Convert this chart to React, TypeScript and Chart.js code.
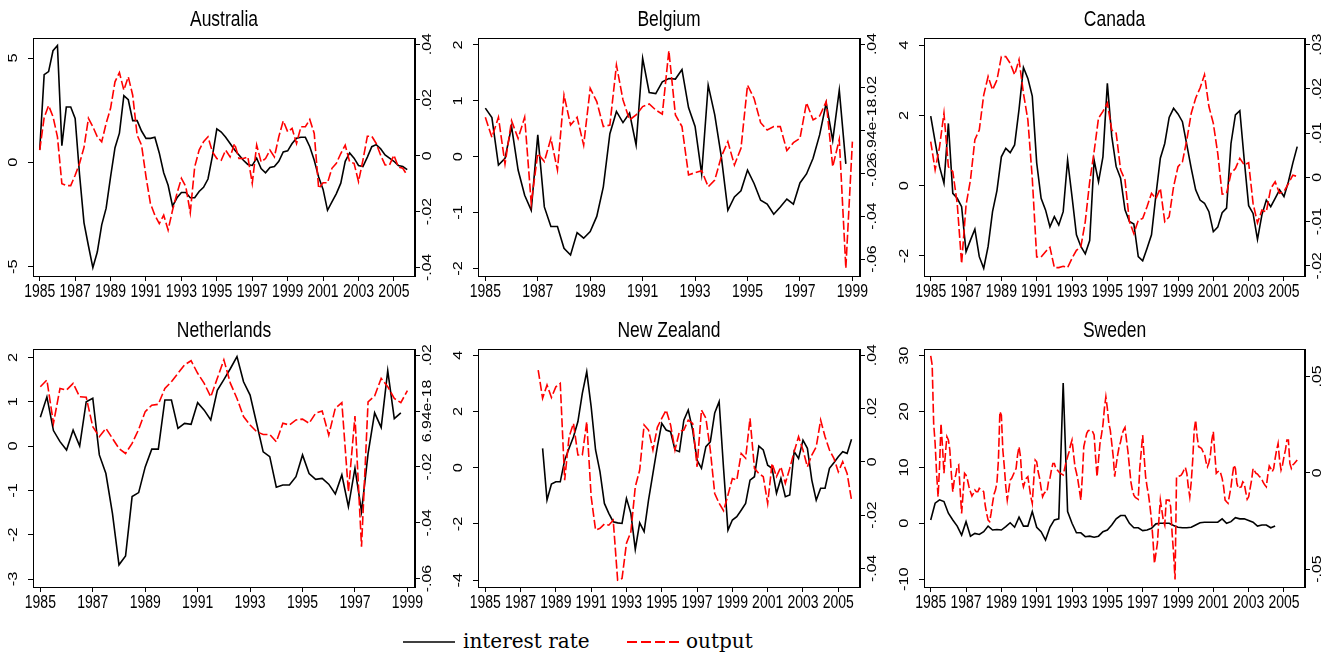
import React, { useEffect, useRef } from "react";
import { Chart, registerables } from "chart.js";
Chart.register(...registerables);

const SANS = '"Liberation Sans", Arial, Helvetica, sans-serif';
const SY = 1.26;

// ---------- tick values & labels ----------
const xTicksLong = [1985, 1987, 1989, 1991, 1993, 1995, 1997, 1999, 2001, 2003, 2005];
const xTicksShort = [1985, 1987, 1989, 1991, 1993, 1995, 1997, 1999];

const ausLeftTicks = [-5, 0, 5];
const ausLeftLabels = ["-5", "0", "5"];
const ausRightTicks = [-0.04, -0.02, 0, 0.02, 0.04];
const ausRightLabels = ["-.04", "-.02", "0", ".02", ".04"];

const belLeftTicks = [-2, -1, 0, 1, 2];
const belLeftLabels = ["-2", "-1", "0", "1", "2"];
const belRightTicks = [-0.06, -0.04, -0.02, 0, 0.02, 0.04];
const belRightLabels = ["-.06", "-.04", "-.02", "6.94e-18", ".02", ".04"];

const canLeftTicks = [-2, 0, 2, 4];
const canLeftLabels = ["-2", "0", "2", "4"];
const canRightTicks = [-0.02, -0.01, 0, 0.01, 0.02, 0.03];
const canRightLabels = ["-.02", "-.01", "0", ".01", ".02", ".03"];

const nldLeftTicks = [-3, -2, -1, 0, 1, 2];
const nldLeftLabels = ["-3", "-2", "-1", "0", "1", "2"];
const nldRightTicks = [-0.06, -0.04, -0.02, 0, 0.02];
const nldRightLabels = ["-.06", "-.04", "-.02", "6.94e-18", ".02"];

const nzlLeftTicks = [-4, -2, 0, 2, 4];
const nzlLeftLabels = ["-4", "-2", "0", "2", "4"];
const nzlRightTicks = [-0.04, -0.02, 0, 0.02, 0.04];
const nzlRightLabels = ["-.04", "-.02", "0", ".02", ".04"];

const sweLeftTicks = [-10, 0, 10, 20, 30];
const sweLeftLabels = ["-10", "0", "10", "20", "30"];
const sweRightTicks = [-0.05, 0, 0.05];
const sweRightLabels = ["-.05", "0", ".05"];

// ---------- series (quarterly unless noted) ----------
// Australia 1985Q1-2005Q4
const ausRate = [
  0.6, 4.2, 4.35, 5.35, 5.6, 0.8, 2.65, 2.65, 2.1, -0.6, -2.9, -4.0,
  -5.05, -4.3, -3.0, -2.2, -0.7, 0.7, 1.4, 3.2, 3.0, 2.0, 2.0, 1.5,
  1.15, 1.15, 1.2, 0.45, -0.5, -1.1, -2.1, -1.7, -1.45, -1.45, -1.7, -1.7,
  -1.4, -1.2, -0.8, 0.3, 1.6, 1.45, 1.2, 0.9, 0.6, 0.35, 0.1, -0.1,
  -0.15, 0.2, -0.3, -0.5, -0.25, -0.2, 0.05, 0.5, 0.55, 0.9, 1.15, 1.2,
  1.2, 0.75, 0.1, -0.7, -1.3, -2.3, -1.9, -1.5, -1.0, 0.05, 0.45, 0.2,
  -0.15, -0.2, 0.25, 0.75, 0.85, 0.65, 0.35, 0.2, 0.05, -0.15, -0.2, -0.35,
];
const ausOutput = [
  0.002, 0.0137, 0.018, 0.014, 0.0068, -0.01, -0.0107, -0.0107, -0.007, -0.0027, 0.003, 0.0134,
  0.0104, 0.0068, 0.005, 0.0116, 0.017, 0.0265, 0.0298, 0.0235, 0.0283, 0.0217, 0.0074, 0.0038,
  -0.0075, -0.0171, -0.0213, -0.0243, -0.0213, -0.0266, -0.0195, -0.0135, -0.0081, -0.0111, -0.0204, -0.004,
  0.002, 0.005, 0.0068, 0.0014, -0.001, -0.0016, 0.002, -0.0004, 0.0044, -0.001, -0.001, -0.0004,
  -0.0099, 0.0038, -0.0022, -0.001, 0.002, -0.0004, 0.0068, 0.0125, 0.0086, 0.0098, 0.0044, 0.0104,
  0.0104, 0.013, 0.008, -0.0117, -0.0097, -0.0097, -0.0045, -0.0027, 0.0008, 0.0038, -0.0022, -0.0027,
  -0.0093, -0.0016, 0.007, 0.007, 0.0044, 0.0002, -0.0033, -0.0033, 0.0002, -0.004, -0.0045, -0.007,
];

// Belgium: rate 1985Q1-1998Q4, output 1985Q1-1999Q1
const belRate = [
  0.87, 0.7, -0.15, -0.03, 0.54, -0.24, -0.69, -0.96, 0.39, -0.9, -1.25, -1.25,
  -1.64, -1.76, -1.36, -1.46, -1.34, -1.07, -0.54, 0.41, 0.81, 0.61, 0.78, 0.21,
  1.76, 1.15, 1.13, 1.34, 1.4, 1.39, 1.56, 0.88, 0.54, -0.31, 1.28, 0.75,
  0.0, -0.96, -0.72, -0.61, -0.24, -0.48, -0.78, -0.85, -1.03, -0.9, -0.76, -0.85,
  -0.47, -0.31, -0.03, 0.39, 0.96, 0.29, 1.19, -0.13,
];
const belOutput = [
  0.0059, -0.0034, 0.0059, -0.0158, 0.0043, -0.0039, 0.0059, -0.0341, -0.0109, -0.0147, -0.0039, -0.0186,
  0.0163, 0.0023, 0.0059, -0.007, 0.0194, 0.0132, 0.0016, 0.0023, 0.0302, 0.014, 0.0047, 0.007,
  0.0109, 0.0121, 0.0093, 0.0074, 0.0369, 0.007, 0.0016, -0.0209, -0.0198, -0.0189, -0.0264, -0.0233,
  -0.0124, -0.0054, -0.0163, -0.0085, 0.0209, 0.0147, 0.0034, 0.0, 0.0016, 0.0016, -0.0096, -0.0059,
  -0.0039, 0.0127, 0.0047, 0.0065, 0.0132, -0.0171, -0.0043, -0.0643, -0.0054,
];

// Canada 1985Q1-2005Q4
const canRate = [
  1.98, 1.25, 0.54, 0.07, 1.77, -0.22, -0.36, -0.6, -1.88, -1.55, -1.24, -2.02,
  -2.35, -1.73, -0.74, -0.14, 0.82, 1.06, 0.94, 1.16, 2.17, 3.36, 3.05, 2.55,
  0.65, -0.36, -0.69, -1.17, -0.88, -1.12, -0.74, 0.73, -0.31, -1.4, -1.73, -1.94,
  -1.56, 0.73, 0.11, 0.82, 2.91, 1.4, 0.54, 0.21, -0.69, -1.02, -1.09, -2.02,
  -2.14, -1.78, -1.4, -0.27, 0.78, 1.2, 1.94, 2.2, 2.04, 1.82, 1.16, 0.49,
  -0.12, -0.41, -0.5, -0.74, -1.31, -1.18, -0.77, -0.64, 1.2, 2.01, 2.13, 0.73,
  -0.57, -0.79, -1.53, -0.83, -0.41, -0.6, -0.36, -0.12, -0.31, 0.11, 0.64, 1.11,
];
const canOutput = [
  0.0081, 0.0017, 0.0069, 0.0145, 0.0024, 0.0013, -0.0059, -0.0195, -0.0063, -0.0006, 0.0085, 0.0107,
  0.0186, 0.0228, 0.0198, 0.022, 0.0273, 0.0273, 0.0258, 0.0232, 0.0266, 0.019, 0.013, -0.0002,
  -0.018, -0.018, -0.0168, -0.0158, -0.0204, -0.0204, -0.0201, -0.0204, -0.0183, -0.0165, -0.0157, -0.01,
  -0.001, 0.0058, 0.0134, 0.0149, 0.0168, 0.0107, 0.01, 0.0017, -0.0006, -0.01, -0.0127, -0.0097,
  -0.0093, -0.0066, -0.0036, -0.0048, -0.0025, -0.01, -0.0089, -0.0021, 0.0024, 0.0035, 0.0085, 0.0145,
  0.0179, 0.0202, 0.0232, 0.016, 0.0122, 0.0054, -0.0038, -0.0036, 0.0009, 0.002, 0.0043, 0.0028,
  0.0033, -0.0059, -0.0103, -0.0074, -0.0078, -0.0025, -0.001, -0.0036, -0.0032, -0.0014, 0.0005, 0.0002,
];

// Netherlands: rate 1985Q1-1998Q4, output 1985Q1-1999Q1
const nldRate = [
  0.65, 1.11, 0.35, 0.1, -0.09, 0.36, 0.0, 1.0, 1.08, -0.2, -0.62, -1.52,
  -2.68, -2.48, -1.14, -1.05, -0.47, -0.07, -0.07, 1.04, 1.04, 0.4, 0.51, 0.49,
  0.98, 0.81, 0.59, 1.26, 1.5, 1.75, 2.02, 1.45, 1.15, 0.51, -0.13, -0.24,
  -0.93, -0.88, -0.88, -0.69, -0.2, -0.62, -0.75, -0.73, -0.86, -1.08, -0.65, -1.37,
  -0.5, -1.48, -0.17, 0.75, 0.42, 1.7, 0.62, 0.75,
];
const nldOutput = [
  0.0087, 0.0111, -0.0044, 0.0081, 0.0075, 0.0099, 0.0051, 0.0049, -0.0056, -0.0092, -0.0062, -0.0098,
  -0.0134, -0.0152, -0.0116, -0.0066, -0.0002, 0.0021, 0.0024, 0.0081, 0.0105, 0.0135, 0.0165, 0.018,
  0.0135, 0.0099, 0.0051, 0.0117, 0.0183, 0.0099, 0.0045, -0.002, -0.005, -0.0074, -0.0084, -0.0084,
  -0.011, -0.0044, -0.005, -0.0032, -0.0029, -0.0044, -0.0008, 0.0, -0.0086, 0.001, 0.003, -0.0289,
  -0.0018, -0.0486, 0.0033, 0.0054, 0.0117, 0.0087, 0.0045, 0.003, 0.0073,
];

// New Zealand: rate 1988Q2-2005Q4, output 1988Q1-2005Q4
const nzlRate = [
  0.69, -1.15, -0.58,
  -0.5, -0.5, 0.27, 0.69, 1.1, 1.64, 2.64, 3.41, 2.17, 0.63, -0.14, -1.27,
  -1.62, -1.92, -1.96, -1.98, -1.09, -1.62, -2.9, -1.96, -2.27, -1.15, -0.2, 0.75,
  1.58, 1.34, 1.28, 0.63, 0.57, 1.69, 2.05, 1.34, 0.27, -0.02, 0.75, 0.92,
  1.95, 2.35, -0.02, -2.22, -1.86, -1.74, -1.51, -1.27, -0.44, -0.32, 0.77, 0.63,
  0.09, -0.02, -0.91, -0.38, -1.03, -0.97, 0.57, 0.33, 0.98, 0.69, -0.44, -1.15,
  -0.73, -0.73, -0.02, 0.18, 0.39, 0.57, 0.51, 1.01,
];
const nzlOutput = [
  0.0344, 0.0238, 0.0288, 0.0241, 0.0281, 0.0294, -0.0069, 0.0094, 0.0144, 0.0025, 0.0025, 0.015,
  -0.0131, -0.0256, -0.025, -0.0234, -0.0238, -0.0219, -0.0444, -0.0438, -0.0306, -0.0263, -0.0094, -0.0031,
  0.0138, 0.0119, 0.0044, 0.0129, 0.0163, 0.0194, 0.0138, 0.0044, 0.0113, 0.0119, 0.0156, 0.0144,
  -0.0019, 0.0194, 0.0163, 0.0044, -0.0119, -0.0156, -0.0184, -0.0125, -0.0063, -0.0069, 0.0031, 0.0013,
  0.0163, -0.0025, -0.0044, -0.0056, -0.0156, -0.0006, -0.0056, -0.0019, -0.0081, -0.0025, 0.0038, 0.0094,
  0.0044, -0.0019, 0.0025, 0.0056, 0.0156, 0.0094, 0.0044, 0.0013, -0.0038, 0.0, -0.0044, -0.0144,
];

// Sweden: rate quarterly 1985Q1-2004Q3, output monthly 1985m1-2005m10
const sweRate = [
  0.6, 3.6, 4.2, 3.9, 1.8, 0.6, -0.5, -2.1, 0.3, -2.3, -1.8, -2.0,
  -1.5, -0.5, -1.2, -1.1, -1.2, -0.6, 0.1, -0.7, 1.1, -0.5, -0.5, 2.1,
  -0.7, -1.5, -3.0, -0.7, 0.6, 0.8, 25.1, 2.1, 0.0, -1.7, -1.7, -2.4,
  -2.3, -2.5, -2.3, -1.5, -1.2, -0.3, 0.8, 1.4, 1.4, 0.0, -0.8, -0.8,
  -1.3, -1.2, -0.9, -0.1, 0.0, 0.0, 0.0, -0.4, -0.7, -0.8, -0.8, -0.7,
  -0.3, 0.1, 0.2, 0.2, 0.2, 0.2, 0.8, 0.0, 0.3, 1.0, 0.8, 0.8,
  0.5, 0.2, -0.5, -0.3, -0.3, -0.8, -0.5,
];
const sweOutput = [
  0.0606, 0.0559, 0.0256, 0.0152, -0.0003, -0.0125, 0.0031, 0.0256, 0.0135, -0.0003, 0.01, 0.0187,
  0.017, 0.0118, -0.0003, -0.0099, -0.0038, -0.0012, 0.0031, 0.004, -0.009, -0.0211, -0.0107, -0.0003,
  -0.0012, -0.0038, -0.0073, -0.0099, -0.0121, -0.0107, -0.009, -0.0099, -0.0099, -0.0081, -0.0087, -0.009,
  -0.0099, -0.0168, -0.0211, -0.0246, -0.0254, -0.0211, -0.0159, -0.0111, -0.009, -0.0052, 0.0066, 0.0317,
  0.0299, 0.0118, 0.0031, -0.0073, -0.0142, -0.009, -0.0038, -0.0029, -0.0012, 0.0005, 0.0022, 0.0092,
  0.0135, 0.0083, -0.0038, -0.0073, -0.0047, -0.0029, -0.0021, -0.0073, -0.0125, -0.0159, -0.0038, 0.0066,
  0.0057, 0.0005, -0.0029, -0.0081, -0.0125, -0.0107, -0.0099, -0.0099, -0.0047, -0.0029, 0.0014, 0.0048,
  0.0048, 0.0022, 0.0014, 0.0005, -0.0003, -0.0007, -0.0012, 0.0022, 0.0057, 0.0083, 0.0109, 0.0144,
  0.017, 0.01, 0.0031, 0.0, -0.0038, -0.009, -0.0142, -0.0021, 0.0135, 0.017, 0.0204, 0.0218,
  0.0221, 0.0221, 0.0213, 0.0196, 0.0083, -0.0021, 0.0066, 0.0152, 0.0196, 0.0247, 0.0334, 0.0394,
  0.0334, 0.0256, 0.0221, 0.0152, 0.0083, -0.0021, 0.004, 0.0092, 0.0135, 0.0161, 0.0201, 0.0221,
  0.0235, 0.017, 0.0109, 0.0031, -0.0047, -0.009, -0.0116, -0.0128, -0.0133, -0.0138, 0.0022, 0.0109,
  0.0196, 0.0083, -0.0021, -0.0073, -0.0116, -0.0176, -0.0246, -0.0349, -0.0471, -0.0419, -0.0367, -0.0246,
  -0.0142, -0.0194, -0.0246, -0.0272, -0.0142, -0.0142, -0.0142, -0.0176, -0.0315, -0.0419, -0.0554, -0.0021,
  -0.0021, -0.0017, -0.0014, -0.0003, 0.0014, 0.0028, -0.0003, -0.0073, -0.0125, -0.0047, 0.0066, 0.0221,
  0.0273, 0.0187, 0.0135, 0.0131, 0.0126, 0.0109, 0.01, 0.0057, 0.0031, 0.0052, 0.0092, 0.017,
  0.0213, 0.01, -0.0003, 0.0005, 0.001, -0.0003, -0.0029, -0.0073, -0.0142, -0.0151, -0.0159, -0.0116,
  -0.0073, -0.0012, 0.004, 0.0022, -0.0055, -0.0081, -0.0076, -0.0073, -0.0047, -0.0055, -0.0099, -0.0138,
  -0.0125, -0.0081, -0.0038, 0.0022, 0.001, -0.0003, -0.0007, -0.0017, -0.0024, -0.0035, -0.0052, -0.0064,
  -0.0073, -0.0012, 0.0035, 0.0022, 0.0005, 0.0022, 0.0074, 0.0118, 0.0152, 0.0066, 0.0014, 0.004,
  0.0083, 0.0118, 0.017, 0.017, 0.0048, 0.0022, 0.004, 0.0048, 0.0057, 0.0066,
];

// ---------- panel layout ----------
type AxisSpec = { min: number; max: number; ticks: number[]; labels: string[] };
type Series = { values: number[]; start: number; step: number };
type PanelSpec = {
  title: string;
  plot: { left: number; top: number; right: number; bottom: number };
  x: { min: number; max: number; ticks: number[] };
  yL: AxisSpec;
  yR: AxisSpec;
  rate: Series;
  output: Series;
};

const Q = 0.25;
const M = 1 / 12;
const ROW1 = { top: 38, bottom: 276 };
const ROW2 = { top: 349, bottom: 587 };
const COLS = [
  { left: 33, right: 415 },
  { left: 478, right: 860 },
  { left: 924, right: 1305 },
];
const XLONG = { min: 1984.62, max: 2006.19, ticks: xTicksLong };
const XSHORT = { min: 1984.72, max: 1999.29, ticks: xTicksShort };

const panels: PanelSpec[] = [
  {
    title: "Australia",
    plot: { ...COLS[0], ...ROW1 },
    x: XLONG,
    yL: { min: -5.45, max: 5.96, ticks: ausLeftTicks, labels: ausLeftLabels },
    yR: { min: -0.0431, max: 0.0422, ticks: ausRightTicks, labels: ausRightLabels },
    rate: { values: ausRate, start: 1985, step: Q },
    output: { values: ausOutput, start: 1985, step: Q },
  },
  {
    title: "Belgium",
    plot: { ...COLS[1], ...ROW1 },
    x: XSHORT,
    yL: { min: -2.137, max: 2.125, ticks: belLeftTicks, labels: belLeftLabels },
    yR: { min: -0.0679, max: 0.0428, ticks: belRightTicks, labels: belRightLabels },
    rate: { values: belRate, start: 1985, step: Q },
    output: { values: belOutput, start: 1985, step: Q },
  },
  {
    title: "Canada",
    plot: { ...COLS[2], ...ROW1 },
    x: XLONG,
    yL: { min: -2.57, max: 4.2, ticks: canLeftTicks, labels: canLeftLabels },
    yR: { min: -0.0223, max: 0.0315, ticks: canRightTicks, labels: canRightLabels },
    rate: { values: canRate, start: 1985, step: Q },
    output: { values: canOutput, start: 1985, step: Q },
  },
  {
    title: "Netherlands",
    plot: { ...COLS[0], ...ROW2 },
    x: XSHORT,
    yL: { min: -3.18, max: 2.19, ticks: nldLeftTicks, labels: nldLeftLabels },
    yR: { min: -0.063, max: 0.0222, ticks: nldRightTicks, labels: nldRightLabels },
    rate: { values: nldRate, start: 1985, step: Q },
    output: { values: nldOutput, start: 1985, step: Q },
  },
  {
    title: "New Zealand",
    plot: { ...COLS[1], ...ROW2 },
    x: { min: 1984.59, max: 2006.23, ticks: xTicksLong },
    yL: { min: -4.24, max: 4.22, ticks: nzlLeftTicks, labels: nzlLeftLabels },
    yR: { min: -0.047, max: 0.0423, ticks: nzlRightTicks, labels: nzlRightLabels },
    rate: { values: nzlRate, start: 1988.25, step: Q },
    output: { values: nzlOutput, start: 1988, step: Q },
  },
  {
    title: "Sweden",
    plot: { ...COLS[2], ...ROW2 },
    x: XLONG,
    yL: { min: -11.4, max: 31.2, ticks: sweLeftTicks, labels: sweLeftLabels },
    yR: { min: -0.0593, max: 0.0642, ticks: sweRightTicks, labels: sweRightLabels },
    rate: { values: sweRate, start: 1985, step: Q },
    output: { values: sweOutput, start: 1985, step: M },
  },
];

const SIDE = 33;
const ROW_H = 311;

function toPoints(s: Series) {
  return s.values.map((v, i) => ({ x: s.start + i * s.step, y: v }));
}

function hText(ctx: CanvasRenderingContext2D, text: string, x: number, y: number, size: number) {
  ctx.save();
  ctx.translate(x, y);
  ctx.scale(1, SY);
  ctx.font = `${size}px ${SANS}`;
  ctx.textAlign = "center";
  ctx.textBaseline = "alphabetic";
  ctx.fillStyle = "#000";
  ctx.fillText(text, 0, 0);
  ctx.restore();
}

function vText(ctx: CanvasRenderingContext2D, text: string, x: number, y: number, size: number) {
  ctx.save();
  ctx.translate(x, y);
  ctx.rotate(-Math.PI / 2);
  ctx.scale(SY, 1);
  ctx.font = `${size}px ${SANS}`;
  ctx.textAlign = "center";
  ctx.textBaseline = "alphabetic";
  ctx.fillStyle = "#000";
  ctx.fillText(text, 0, 0);
  ctx.restore();
}

function PanelChart({ p }: { p: PanelSpec }) {
  const ref = useRef<HTMLCanvasElement>(null);
  const rowTop = p.plot.top < 300 ? 0 : ROW_H;
  const canvasLeft = p.plot.left - SIDE;
  const canvasWidth = p.plot.right + SIDE - canvasLeft;
  const rightW = canvasWidth - (p.plot.right - canvasLeft);
  const padTop = p.plot.top - rowTop;
  const xH = ROW_H - (p.plot.bottom - rowTop);

  useEffect(() => {
    const canvas = ref.current;
    if (!canvas) return;
    const stataPlugin = {
      id: "stataDecor",
      afterDraw(chart: any) {
        const ctx: CanvasRenderingContext2D = chart.ctx;
        const a = chart.chartArea;
        ctx.save();
        ctx.strokeStyle = "#000";
        ctx.lineWidth = 1;
        ctx.strokeRect(Math.round(a.left) + 0.5, Math.round(a.top) + 0.5, Math.round(a.right - a.left) - 1, Math.round(a.bottom - a.top));
        ctx.restore();
        hText(ctx, p.title, (a.left + a.right) / 2, a.top - 12, 17.5);
        const xs = chart.scales.x;
        p.x.ticks.forEach((t) => hText(ctx, String(t), xs.getPixelForValue(t), a.bottom + 21, 14));
        const yl = chart.scales.yL;
        p.yL.ticks.forEach((t, i) => vText(ctx, p.yL.labels[i], a.left - 16, yl.getPixelForValue(t), 13));
        const yr = chart.scales.yR;
        p.yR.ticks.forEach((t, i) => vText(ctx, p.yR.labels[i], a.right + 16, yr.getPixelForValue(t), 12.6));
      },
    };
    const tickScale = (ticks: number[]) => (scale: any) => {
      scale.ticks = ticks.map((v) => ({ value: v }));
    };
    const chart = new Chart(canvas, {
      type: "line",
      data: {
        datasets: [
          {
            label: "output",
            data: toPoints(p.output),
            yAxisID: "yR",
            borderColor: "#ff0000",
            borderWidth: 1.6,
            borderDash: [9, 3],
            pointRadius: 0,
            fill: false,
            tension: 0,
          },
          {
            label: "interest rate",
            data: toPoints(p.rate),
            yAxisID: "yL",
            borderColor: "#000000",
            borderWidth: 1.6,
            pointRadius: 0,
            fill: false,
            tension: 0,
          },
        ],
      },
      options: {
        animation: false,
        responsive: false,
        maintainAspectRatio: false,
        devicePixelRatio: 1,
        events: [],
        layout: { padding: { top: padTop, left: 0, right: 0, bottom: 0 } },
        plugins: { legend: { display: false }, tooltip: { enabled: false }, title: { display: false } },
        scales: {
          x: {
            type: "linear",
            position: "bottom",
            min: p.x.min,
            max: p.x.max,
            afterBuildTicks: tickScale(p.x.ticks),
            ticks: { display: false },
            grid: { drawOnChartArea: false, drawTicks: true, tickLength: 5, color: "#000", lineWidth: 1 },
            border: { display: true, color: "#000", width: 1 },
            afterFit: (s: any) => {
              s.height = xH;
            },
          },
          yL: {
            type: "linear",
            position: "left",
            min: p.yL.min,
            max: p.yL.max,
            afterBuildTicks: tickScale(p.yL.ticks),
            ticks: { display: false },
            grid: { drawOnChartArea: false, drawTicks: true, tickLength: 5, color: "#000", lineWidth: 1 },
            border: { display: true, color: "#000", width: 1 },
            afterFit: (s: any) => {
              s.width = SIDE;
            },
          },
          yR: {
            type: "linear",
            position: "right",
            min: p.yR.min,
            max: p.yR.max,
            afterBuildTicks: tickScale(p.yR.ticks),
            ticks: { display: false },
            grid: { drawOnChartArea: false, drawTicks: true, tickLength: 5, color: "#000", lineWidth: 1 },
            border: { display: true, color: "#000", width: 1 },
            afterFit: (s: any) => {
              s.width = rightW;
            },
          },
        },
      } as any,
      plugins: [stataPlugin],
    });
    return () => chart.destroy();
  }, []);

  return (
    <canvas
      ref={ref}
      width={canvasWidth}
      height={ROW_H}
      style={{ position: "absolute", left: canvasLeft, top: rowTop, width: canvasWidth, height: ROW_H }}
    />
  );
}

function Legend() {
  const serif = '"DejaVu Serif", "Liberation Serif", serif';
  return (
    <svg width={1338} height={40} style={{ position: "absolute", left: 0, top: 622 }}>
      <line x1={403} x2={455} y1={20} y2={20} stroke="#000" strokeWidth={1.5} />
      <text x={463} y={26} fontFamily={serif} fontSize={20} fill="#000">
        interest rate
      </text>
      <line x1={627} x2={680} y1={20} y2={20} stroke="#ff0000" strokeWidth={1.8} strokeDasharray="10 4" />
      <text x={686} y={26} fontFamily={serif} fontSize={20} fill="#000">
        output
      </text>
    </svg>
  );
}

export default function App() {
  return (
    <div style={{ position: "absolute", left: 0, top: 0, width: 1338, height: 655, background: "#fff", overflow: "hidden" }}>
      {panels.map((p) => (
        <PanelChart key={p.title} p={p} />
      ))}
      <Legend />
    </div>
  );
}
